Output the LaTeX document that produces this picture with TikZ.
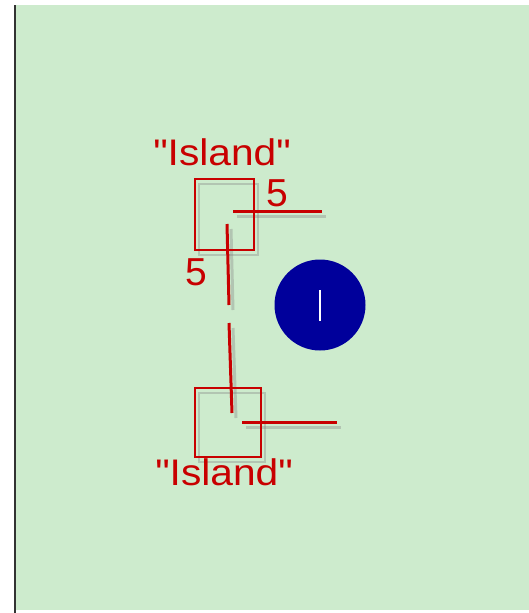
\documentclass[tikz,border=0pt]{standalone}
\usepackage{fontspec}
\setmainfont{Liberation Sans}
\definecolor{bg}{RGB}{205,235,205}
\definecolor{rd}{RGB}{200,0,0}
\definecolor{navy}{RGB}{0,0,155}
\begin{document}
\begin{tikzpicture}[x=1pt,y=-1pt,
  wire/.style={draw=rd,line width=3pt},
  shad/.style={draw=black!50,opacity=0.35,line width=3pt},
  lbl/.style={text=rd,font=\fontsize{39}{39}\selectfont,inner sep=0pt},
  lbll/.style={text=rd,font=\fontsize{37}{37}\selectfont,inner sep=0pt,xscale=1.1}]
\useasboundingbox (0,0) rectangle (529,613);
\fill[white] (0,0) rectangle (529,613);
\fill[bg] (15,5) rectangle (529,610);
\draw[black!80,line width=2pt] (15,5) -- (15,613);
% shadows
\begin{scope}[shift={(4,5)}]
  \draw[shad,line width=2pt] (195,179) rectangle (254,250);
  \draw[shad] (233,211) -- (322,211);
  \draw[shad] (227,224) -- (229,305);
  \draw[shad,line width=2pt] (195,388) rectangle (261,457);
  \draw[shad] (242,422) -- (337,422);
  \draw[shad] (229,323) -- (232,413);
\end{scope}
% boxes
\node[draw=rd,line width=2pt,minimum width=59pt,minimum height=71pt,inner sep=0pt] (b1) at (224.5,214.5) {};
\node[draw=rd,line width=2pt,minimum width=66pt,minimum height=69pt,inner sep=0pt] (b2) at (228,422.5) {};
% line endpoints
\coordinate (h1a) at (233,211); \coordinate (h1b) at (322,211);
\coordinate (v1a) at (227,224); \coordinate (v1b) at (229,305);
\coordinate (h2a) at (242,422); \coordinate (h2b) at (337,422);
\coordinate (v2a) at (229,323); \coordinate (v2b) at (232,413);
\draw[wire] (h1a) -- (h1b);
\draw[wire] (v1a) -- (v1b);
\draw[wire] (h2a) -- (h2b);
\draw[wire] (v2a) -- (v2b);
% labels
\node[lbll] (t1) at (222,152) {\textquotedbl Island\textquotedbl};
\node[lbll] (t2) at (224,472) {\textquotedbl Island\textquotedbl};
\node[lbl] (n1) at (277,193) {5};
\node[lbl] (n2) at (196,272) {5};
% circle
\node[circle,fill=navy,minimum size=91pt,inner sep=0pt] (c) at (320,305) {};
\draw[white,line width=1.5pt] (320,290) -- (320,321);
\end{tikzpicture}
\end{document}
